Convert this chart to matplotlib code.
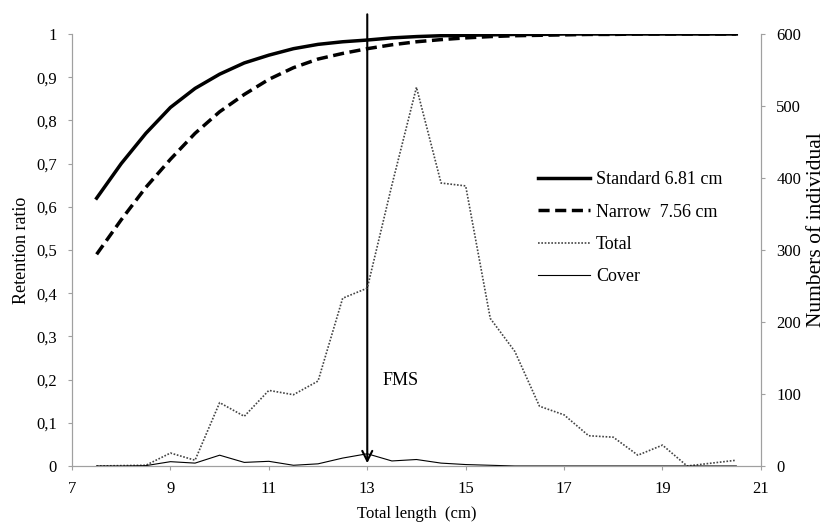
import matplotlib
matplotlib.use("Agg")
import matplotlib.pyplot as plt
from matplotlib.ticker import FuncFormatter

plt.rcParams['font.family'] = ['Liberation Serif', 'DejaVu Serif']

# ----------------------------------------------------------
# Data
# ----------------------------------------------------------
length_cm = [7.5, 8, 8.5, 9, 9.5, 10, 10.5, 11, 11.5, 12, 12.5, 13, 13.5, 14,
             14.5, 15, 15.5, 16, 16.5, 17, 17.5, 18, 18.5, 19, 19.5, 20, 20.5]

standard = [0.62, 0.70, 0.77, 0.83, 0.874, 0.907, 0.933, 0.951, 0.966, 0.976,
            0.982, 0.986, 0.991, 0.994, 0.996, 0.997, 0.998, 0.999, 0.999,
            1.0, 1.0, 1.0, 1.0, 1.0, 1.0, 1.0, 1.0]
narrow = [0.49, 0.57, 0.645, 0.71, 0.77, 0.82, 0.86, 0.895, 0.922, 0.942,
          0.955, 0.966, 0.975, 0.982, 0.987, 0.991, 0.994, 0.996, 0.997,
          0.998, 0.999, 0.999, 1.0, 1.0, 1.0, 1.0, 1.0]

total = [0, 0.5, 1, 18, 8, 88, 69, 105, 99, 118, 233, 247, 390, 526,
         393, 389, 205, 159, 83, 71, 42, 40, 15, 29, 0, 4, 8]
cover = [0, 0, 0.5, 6, 4, 15, 5, 6.5, 1, 3, 11, 17, 7, 9,
         4, 2, 1, 0, 0, 0, 0, 0, 0, 0, 0, 0, 0]

fms_cm = 13
x_ticks = [7, 9, 11, 13, 15, 17, 19, 21]

# ----------------------------------------------------------
# Plot
# ----------------------------------------------------------
fig = plt.figure(figsize=(8.26, 5.23), dpi=100)
ax = fig.add_axes([0.0872, 0.109, 0.834, 0.826])
ax2 = ax.twinx()

ax.plot(length_cm, standard, color='black', linewidth=2.5, label='Standard 6.81 cm')
ax.plot(length_cm, narrow, color='black', linewidth=2.5, linestyle=(0, (3.2, 1.6)),
        label='Narrow  7.56 cm')
ax2.plot(length_cm, total, color='#444444', linewidth=1.2, linestyle=(0, (1, 1)), label='Total')
ax2.plot(length_cm, cover, color='black', linewidth=0.8, label='Cover')

ax.set_xlim(7, 21)
ax.set_ylim(0, 1)
ax2.set_ylim(0, 600)
ax.set_xticks(x_ticks)
ax.set_yticks([i / 10 for i in range(11)])
ax2.set_yticks(range(0, 601, 100))
ax.yaxis.set_major_formatter(FuncFormatter(lambda v, p: ('%g' % round(v, 1)).replace('.', ',')))

for a in (ax, ax2):
    a.spines['top'].set_visible(False)
    for s in ('left', 'right', 'bottom'):
        a.spines[s].set_color('#a0a0a0')
    a.tick_params(colors='#a0a0a0', labelcolor='black', labelsize=12, length=3, direction='out')
ax.tick_params(axis='x', pad=8)
ax.tick_params(axis='y', pad=8)
ax2.tick_params(axis='y', pad=8)

ax.set_xlabel('Total length  (cm)', fontsize=12, labelpad=6)
ax.set_ylabel('Retention ratio', fontsize=13, labelpad=4)
ax2.set_ylabel('Numbers of individual', fontsize=15.5, labelpad=4)
ax2.yaxis.label.set_y(0.546)

# FMS arrow
ax.annotate('', xy=(fms_cm, 0), xytext=(fms_cm, 1.052), annotation_clip=False,
            arrowprops=dict(arrowstyle='->', color='black', lw=1.5, mutation_scale=18))
ax.text(fms_cm + 0.3, 0.197, 'FMS', fontsize=13, ha='left', va='center')

# legend
h1, l1 = ax.get_legend_handles_labels()
h2, l2 = ax2.get_legend_handles_labels()
ax2.legend(h1 + h2, l1 + l2, loc='upper left', bbox_to_anchor=(0.653, 0.72), frameon=False,
           fontsize=13, handlelength=2.9, handletextpad=0.3, labelspacing=0.85)

fig.savefig('out.png', dpi=100)
